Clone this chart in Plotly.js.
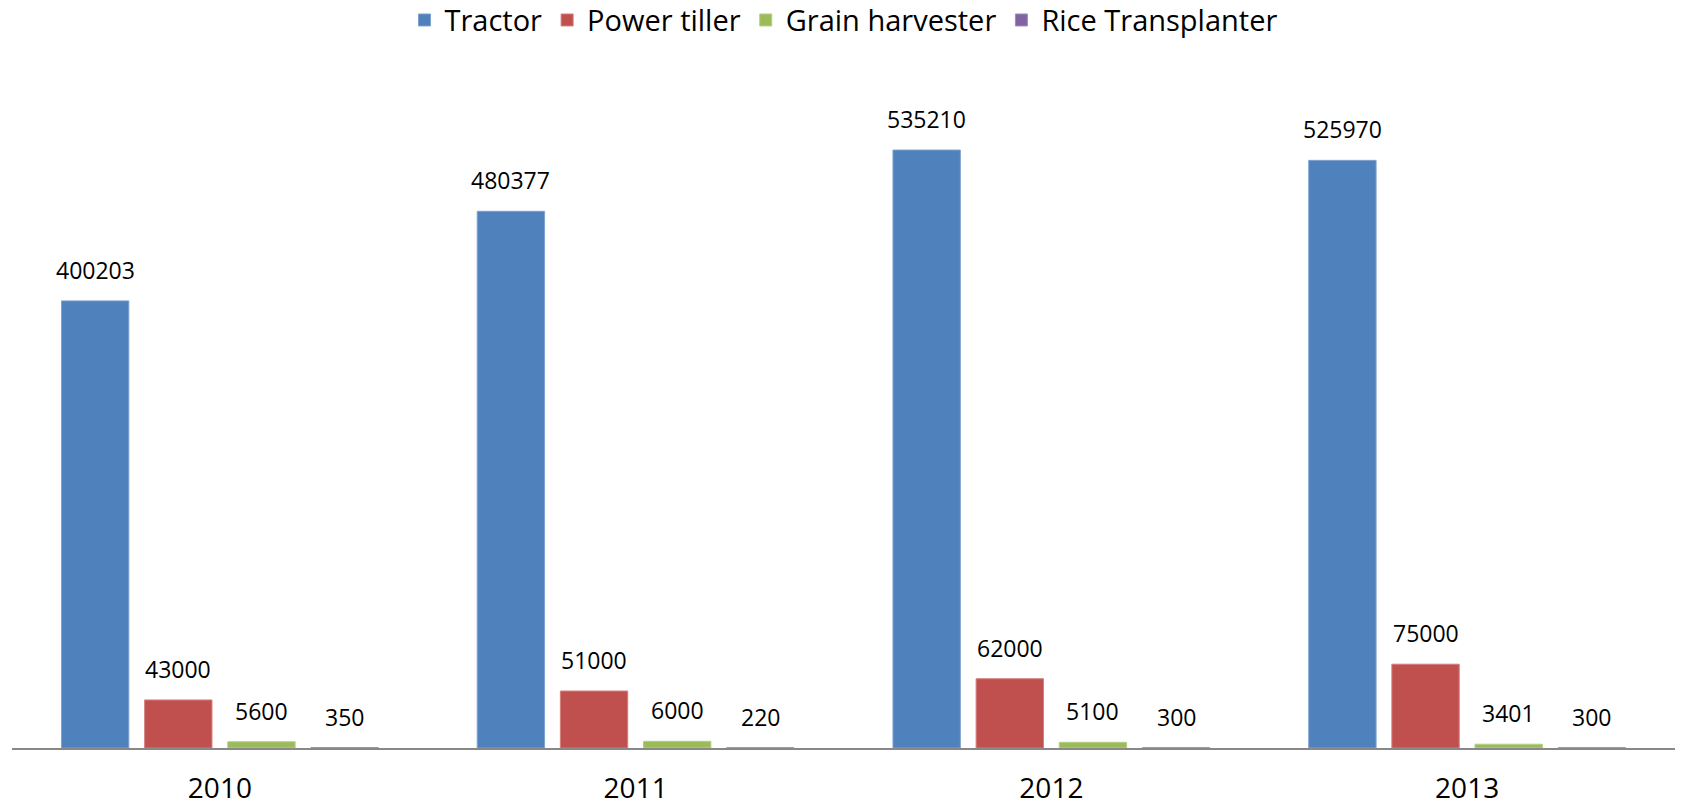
<!DOCTYPE html>
<html>
<head>
<meta charset="utf-8">
<script src="https://cdn.plot.ly/plotly-3.0.1.min.js"></script>
<style>html,body{margin:0;padding:0;background:#fff;}#chart{width:1685px;height:805px;}</style>
</head>
<body>
<div id="chart"></div>
<script>
const years = ["2010", "2011", "2012", "2013"];
const seriesNames = ["Tractor", "Power tiller", "Grain harvester", "Rice Transplanter"];
const tractor = [400203, 480377, 535210, 525970];
const powerTiller = [43000, 51000, 62000, 75000];
const grainHarvester = [5600, 6000, 5100, 3401];
const riceTransplanter = [350, 220, 300, 300];
const colors = ["#4F81BD", "#C0504D", "#9BBB59", "#8064A2"];
const borders = ["#7FA2CF", "#D47F7D", "#B5CE86", "#A08BBF"];

const allSeries = [tractor, powerTiller, grainHarvester, riceTransplanter];
const xIdx = years.map((_, i) => i);
const FONT = "Open Sans, sans-serif";

const traces = allSeries.map((vals, k) => ({
  type: "bar",
  name: seriesNames[k],
  x: xIdx,
  y: vals,
  marker: {color: colors[k], line: {color: borders[k], width: 1}},
  hoverinfo: "y+name"
}));

const slot = 0.2;
const annotations = [];
allSeries.forEach((vals, k) => {
  vals.forEach((v, i) => {
    annotations.push({
      x: i + (k - 1.5) * slot,
      y: v,
      xref: "x", yref: "y",
      text: String(v),
      showarrow: false,
      yanchor: "bottom",
      yshift: 13,
      font: {family: FONT, size: 23, color: "#000"}
    });
  });
});

const layout = {
  width: 1685, height: 805,
  margin: {l: 12, r: 10, t: 100, b: 57},
  paper_bgcolor: "#fff", plot_bgcolor: "#fff",
  barmode: "group",
  bargap: 0.2,
  bargroupgap: 0.19,
  showlegend: true,
  legend: {
    orientation: "h",
    x: 0.5, xanchor: "center",
    yref: "container", y: 0.975, yanchor: "middle",
    font: {family: FONT, size: 29, color: "#000"}
  },
  xaxis: {
    range: [-0.5, 3.5],
    tickvals: xIdx,
    ticktext: years,
    ticks: "",
    showgrid: false,
    zeroline: false,
    showline: true,
    linecolor: "#888888",
    linewidth: 2,
    ticklabelstandoff: 14,
    tickfont: {family: FONT, size: 28, color: "#000"}
  },
  yaxis: {
    range: [0, 580000],
    visible: false,
    showgrid: false,
    zeroline: false
  },
  annotations: annotations
};

Plotly.newPlot("chart", traces, layout, {displayModeBar: false, responsive: false});
</script>
</body>
</html>
